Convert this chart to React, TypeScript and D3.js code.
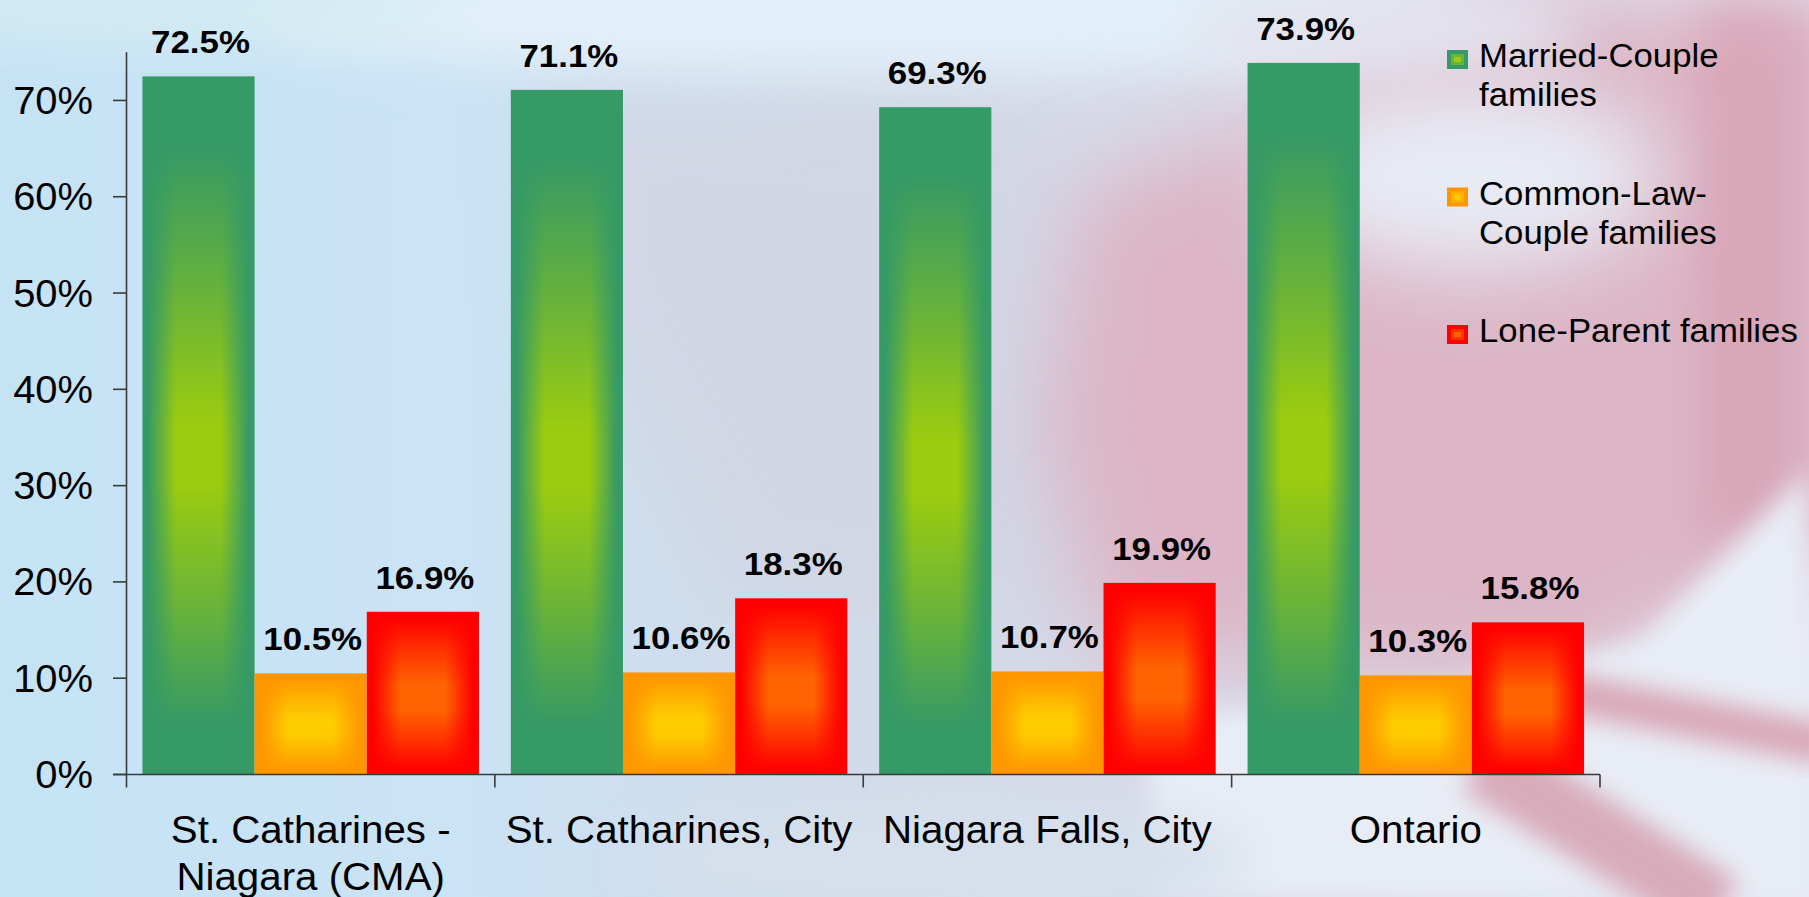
import React from 'react';
import * as d3 from 'd3';

const categories = ["St. Catharines - Niagara (CMA)", "St. Catharines, City", "Niagara Falls, City", "Ontario"];
const categoryLines = [["St. Catharines -", "Niagara (CMA)"], ["St. Catharines, City"], ["Niagara Falls, City"], ["Ontario"]];
const seriesNames = ["Married-Couple families", "Common-Law-Couple families", "Lone-Parent families"];
const legendLines = [["Married-Couple", "families"], ["Common-Law-", "Couple families"], ["Lone-Parent families"]];
const marriedCouple = [72.5, 71.1, 69.3, 73.9];
const commonLaw = [10.5, 10.6, 10.7, 10.3];
const loneParent = [16.9, 18.3, 19.9, 15.8];
const yTicks = [0, 10, 20, 30, 40, 50, 60, 70];
const seriesEdge = ["#369a66", "#ff9600", "#ff0000"];
const seriesCenter = ["#9ccc0e", "#ffcc00", "#ff6400"];

const W = 1809;
const H = 897;
const FONT = "'Liberation Sans', Arial, Helvetica, sans-serif";

const seriesValues = [marriedCouple, commonLaw, loneParent];

function Bar({ x, y, w, h, si }: any) {
  return (
    <g>
      <rect x={x} y={y} width={w} height={h} fill={seriesEdge[si]} />
      <rect x={x} y={y} width={w} height={h} fill={seriesCenter[si]} mask={si === 0 ? 'url(#maskTall)' : 'url(#maskShort)'} />
    </g>
  );
}

export default function App() {
  const x0 = d3.scaleBand<string>().domain(categories).range([126.5, 1600]).paddingInner(0).paddingOuter(0);
  const x1 = d3.scaleBand<string>().domain(seriesNames).range([0, x0.bandwidth()]).paddingInner(0).paddingOuter(0.142);
  const y = d3.scaleLinear().domain([0, 75]).range([774.5, 52.3]);
  const y0 = y(0);

  const bars: any[] = [];
  const labels: any[] = [];
  categories.forEach((c, ci) => {
    seriesNames.forEach((s, si) => {
      const v = seriesValues[si][ci];
      const bx = (x0(c) as number) + (x1(s) as number);
      const bw = x1.bandwidth();
      const by = y(v);
      bars.push(<Bar key={`${ci}-${si}`} x={bx} y={by} w={bw} h={y0 - by} si={si} />);
      labels.push(
        <text
          key={`l${ci}-${si}`}
          transform={`translate(${bx + bw / 2 + 2},${by - 23}) scale(1.09,1)`}
          textAnchor="middle"
          fontFamily={FONT}
          fontWeight="bold"
          fontSize={32}
          fill="#000"
        >
          {v.toFixed(1)}%
        </text>
      );
    });
  });

  const boundaries = [...categories.map((c) => x0(c) as number), 1600];

  return (
    <div style={{ position: 'absolute', left: 0, top: 0 }}>
      <style>{`body{margin:0}`}</style>
      <svg width={W} height={H} style={{ display: 'block' }}>
        <defs>
          <linearGradient id="bgGrad" x1="0" y1="0" x2="1" y2="0">
            <stop offset="0" stopColor="#c6e3f6" />
            <stop offset="0.25" stopColor="#cae3f5" />
            <stop offset="0.45" stopColor="#d1dbea" />
            <stop offset="0.65" stopColor="#d8d9e6" />
            <stop offset="1" stopColor="#e6e9f3" />
          </linearGradient>
          {/* horizontal profile of the bar fill */}
          <linearGradient id="hRamp" x1="0" y1="0" x2="1" y2="0">
            <stop offset="0" stopColor="#000" />
            <stop offset="0.05" stopColor="#000" />
            <stop offset="0.17" stopColor="#777" />
            <stop offset="0.3" stopColor="#fff" />
            <stop offset="0.7" stopColor="#fff" />
            <stop offset="0.83" stopColor="#777" />
            <stop offset="0.95" stopColor="#000" />
            <stop offset="1" stopColor="#000" />
          </linearGradient>
          <linearGradient id="vRampTall" x1="0" y1="0" x2="0" y2="1">
            <stop offset="0" stopColor="#000" />
            <stop offset="0.1" stopColor="#000" />
            <stop offset="0.3" stopColor="#777" />
            <stop offset="0.5" stopColor="#fff" />
            <stop offset="0.58" stopColor="#fff" />
            <stop offset="0.75" stopColor="#888" />
            <stop offset="0.93" stopColor="#000" />
            <stop offset="1" stopColor="#000" />
          </linearGradient>
          <linearGradient id="vRampShort" x1="0" y1="0" x2="0" y2="1">
            <stop offset="0" stopColor="#000" />
            <stop offset="0.04" stopColor="#000" />
            <stop offset="0.25" stopColor="#888" />
            <stop offset="0.45" stopColor="#fff" />
            <stop offset="0.6" stopColor="#fff" />
            <stop offset="0.78" stopColor="#888" />
            <stop offset="0.97" stopColor="#000" />
            <stop offset="1" stopColor="#000" />
          </linearGradient>
          <mask id="vMaskTall" maskContentUnits="objectBoundingBox">
            <rect x={0} y={0} width={1} height={1} fill="url(#vRampTall)" />
          </mask>
          <mask id="vMaskShort" maskContentUnits="objectBoundingBox">
            <rect x={0} y={0} width={1} height={1} fill="url(#vRampShort)" />
          </mask>
          <mask id="maskTall" maskContentUnits="objectBoundingBox">
            <rect x={0} y={0} width={1} height={1} fill="url(#hRamp)" mask="url(#vMaskTall)" />
          </mask>
          <mask id="maskShort" maskContentUnits="objectBoundingBox">
            <rect x={0} y={0} width={1} height={1} fill="url(#hRamp)" mask="url(#vMaskShort)" />
          </mask>
          <filter id="blur40" x="-50%" y="-50%" width="200%" height="200%">
            <feGaussianBlur stdDeviation="40" />
          </filter>
          <filter id="blur25" x="-50%" y="-50%" width="200%" height="200%">
            <feGaussianBlur stdDeviation="25" />
          </filter>
          <filter id="blur12" x="-50%" y="-50%" width="200%" height="200%">
            <feGaussianBlur stdDeviation="12" />
          </filter>
        </defs>

        {/* background */}
        <rect x={0} y={0} width={W} height={H} fill="url(#bgGrad)" />
        <polygon points="540,80 1050,120 1120,640 720,600 560,320" fill="#d2d5e3" opacity={0.8} filter="url(#blur40)" />
        <ellipse cx={900} cy={15} rx={650} ry={60} fill="#e2f0f9" filter="url(#blur25)" />
        <ellipse cx={160} cy={10} rx={300} ry={30} fill="#d4ecf2" filter="url(#blur25)" />
        <polygon
          points="1080,190 1280,120 1480,0 1809,0 1809,580 1640,650 1560,690 1300,670 1100,650 1040,430"
          fill="#dcb6c6"
          filter="url(#blur40)"
        />
        <rect x={1700} y={0} width={140} height={540} fill="#d59bae" opacity={0.6} filter="url(#blur25)" />
        <ellipse cx={1470} cy={175} rx={190} ry={95} fill="#e7ebf4" filter="url(#blur40)" />
        <ellipse cx={1380} cy={30} rx={200} ry={40} fill="#e3e3ee" filter="url(#blur25)" />
        <polygon points="1640,640 1809,470 1809,897 1150,897 1150,720 1450,690" fill="#e8edf5" filter="url(#blur12)" />
        <line x1={1500} y1={680} x2={1830} y2={745} stroke="#d9a7b7" strokeWidth={40} filter="url(#blur12)" />
        <line x1={1480} y1={760} x2={1720} y2={910} stroke="#d8abba" strokeWidth={70} filter="url(#blur12)" />
        <ellipse cx={950} cy={860} rx={300} ry={60} fill="#d6e0ec" filter="url(#blur25)" />

        {/* bars */}
        {bars}

        {/* axes */}
        <g stroke="#3a3a3a" strokeWidth={1.6} fill="none">
          <line x1={126.5} y1={y(75)} x2={126.5} y2={y0} />
          <line x1={113} y1={y0} x2={1600} y2={y0} />
          {yTicks.map((t) => (
            <line key={t} x1={113} y1={y(t)} x2={126.5} y2={y(t)} />
          ))}
          {boundaries.map((b, i) => (
            <line key={i} x1={b} y1={y0} x2={b} y2={y0 + 13} />
          ))}
        </g>

        {/* y tick labels */}
        {yTicks.map((t) => (
          <text
            key={t}
            transform={`translate(93,${y(t) + 13.5}) scale(1.05,1)`}
            textAnchor="end"
            fontFamily={FONT}
            fontSize={38}
            fill="#000"
          >
            {t}%
          </text>
        ))}

        {/* category labels */}
        {categories.map((c, ci) => (
          <g key={c}>
            {categoryLines[ci].map((line, li) => (
              <text
                key={li}
                transform={`translate(${(x0(c) as number) + x0.bandwidth() / 2},${843 + li * 47}) scale(1.06,1)`}
                textAnchor="middle"
                fontFamily={FONT}
                fontSize={38}
                fill="#000"
              >
                {line}
              </text>
            ))}
          </g>
        ))}

        {/* value labels */}
        {labels}

        {/* legend */}
        {seriesNames.map((s, si) => {
          const base = 67 + si * 137.5;
          return (
            <g key={s}>
              <rect x={1447} y={base - 17} width={21} height={19} fill={seriesEdge[si]} />
              <rect x={1451} y={base - 13} width={13} height={11} fill={d3.interpolateRgb(seriesEdge[si], seriesCenter[si])(0.5)} />
              <rect x={1454} y={base - 10} width={7} height={5} fill={seriesCenter[si]} />
              {legendLines[si].map((line, li) => (
                <text
                  key={li}
                  transform={`translate(1479,${base + li * 39}) scale(1.07,1)`}
                  fontFamily={FONT}
                  fontSize={32.5}
                  fill="#000"
                >
                  {line}
                </text>
              ))}
            </g>
          );
        })}
      </svg>
    </div>
  );
}
